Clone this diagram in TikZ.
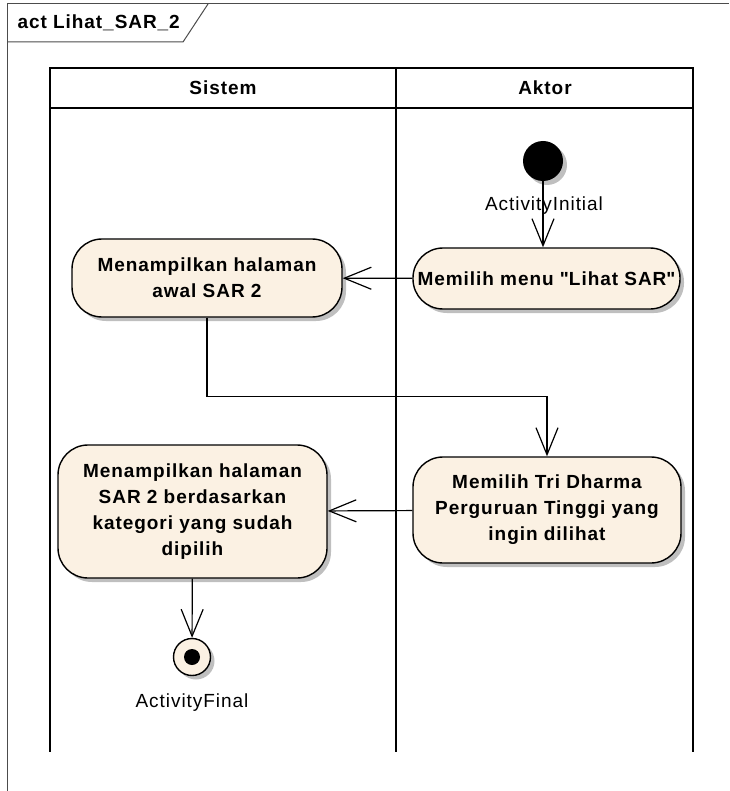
\documentclass[tikz,border=0pt]{standalone}
\usepackage{fontspec}
\setmainfont{Liberation Sans}[LetterSpace=5]
\usetikzlibrary{arrows.meta,shadows}
\definecolor{actfill}{RGB}{251,241,227}

\begin{document}
\begin{tikzpicture}[x=1pt,y=-1pt,>={Straight Barb[length=27pt,width=22pt]},
  every node/.style={font=\fontsize{19}{26}\selectfont},
  lane/.style={line width=2pt},
  shade/.style={drop shadow={shadow xshift=4pt,shadow yshift=-4pt,fill=black!25,opacity=1}},
  action/.style={draw,line width=1.4pt,fill=actfill,rounded corners=30pt,align=center,
    inner sep=0pt,font=\fontsize{19}{26}\selectfont\bfseries,shade},
  flow/.style={->,line width=1.2pt}]
  \useasboundingbox (0,0) rectangle (729,791);
  % frame
  \draw[black!70,line width=1pt] (7,791) -- (7,4) -- (729,4);
  \draw[black!70,line width=1pt] (7,42) -- (183,42) -- (208,4);
  \node[anchor=west,font=\fontsize{19}{26}\selectfont\bfseries] (title) at (14,23) {act Lihat\_SAR\_2};
  % swimlanes
  \draw[lane] (50,68) rectangle (693,108);
  \foreach \x in {50,396,693}
    \draw[lane] (\x,68) -- (\x,752);
  \node[font=\fontsize{19}{26}\selectfont\bfseries] (sistem) at (223,88) {Sistem};
  \node[font=\fontsize{19}{26}\selectfont\bfseries] (aktor) at (545,88) {Aktor};
  % nodes
  \node[circle,fill=black,minimum size=40pt,inner sep=0pt,shade] (init) at (543,161) {};
  \node (initlbl) at (544,206) {ActivityInitial};
  \node[action,minimum width=267pt,minimum height=61pt] (menu) at (546.5,278.5) {Memilih menu \textquotedbl Lihat SAR\textquotedbl};
  \node[action,minimum width=270pt,minimum height=78pt] (awal) at (207,278) {Menampilkan halaman\\awal SAR 2};
  \node[action,minimum width=268pt,minimum height=106pt] (tri) at (547,510) {Memilih Tri Dharma\\Perguruan Tinggi yang\\ingin dilihat};
  \node[action,minimum width=269pt,minimum height=133pt] (kat) at (192.5,511.5) {Menampilkan halaman\\SAR 2 berdasarkan\\kategori yang sudah\\dipilih};
  \node[circle,draw,line width=1.4pt,fill=actfill,minimum size=37pt,inner sep=0pt,shade] (final) at (192,657) {};
  \fill (final.center) circle (8pt);
  \node (finallbl) at (192,703) {ActivityFinal};
  % flows
  \draw[flow] (init) -- (init |- menu.north);
  \draw[flow] (menu) -- (awal);
  \draw[flow] (awal.south) -- ++(0,79) -| (tri.north);
  \draw[flow] (tri) -- (kat);
  \draw[flow] (kat) -- (final);
\end{tikzpicture}
\end{document}
